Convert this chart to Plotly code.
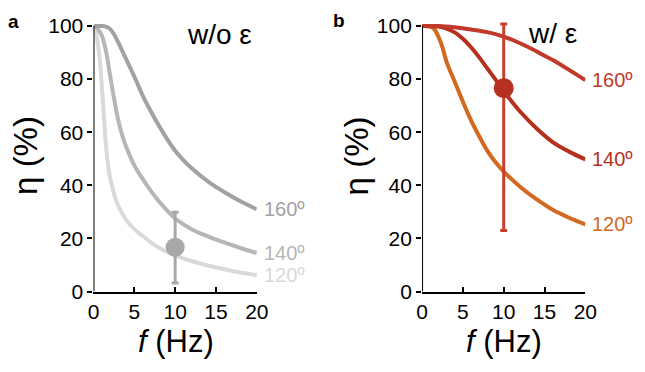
import plotly.graph_objects as go

# ---------------- data ----------------
# panel a (w/o epsilon)
f_a160 = [0, 1, 1.5, 2, 2.5, 3, 4, 5, 6, 7, 8, 9, 10, 11, 12, 14, 16, 18, 20]
eta_a160 = [100, 100, 99.8, 99, 97, 94, 87.5, 81, 74, 68, 62.5, 57.5, 53, 49.5, 46.5, 41.5, 37.5, 34, 31]
f_a140 = [0, 0.5, 1, 1.5, 2, 2.5, 3, 3.5, 4, 5, 6, 7, 8, 9, 10, 12, 14, 16, 18, 20]
eta_a140 = [100, 99, 96.5, 91, 82, 73, 65, 59, 54.5, 47.5, 42.5, 38, 34, 30.6, 27.5, 23.5, 20.8, 18.5, 16.4, 14.5]
f_a120 = [0, 0.25, 0.5, 0.75, 1, 1.25, 1.5, 1.75, 2, 2.5, 3, 4, 5, 6, 8, 10, 12, 14, 16, 18, 20]
eta_a120 = [100, 98, 94, 88, 78.5, 67, 56, 48.5, 43.5, 37, 32.5, 27, 23.5, 21, 16.5, 13.6, 11.5, 9.8, 8.4, 7.2, 6.2]
pt_a_f = [10]
pt_a_eta = [16.7]
pt_a_up = [13.2]
pt_a_dn = [13.5]

# panel b (w/ epsilon)
f_b160 = [0, 2, 4, 6, 8, 10, 12, 14, 15, 16, 18, 20]
eta_b160 = [100, 100, 99.5, 98.7, 97.7, 96, 93.5, 90.5, 88.8, 87.2, 83.5, 79.6]
f_b140 = [0, 2, 3, 4, 5, 6, 7, 8, 9, 10, 11, 12, 14, 16, 18, 20]
eta_b140 = [100, 99.8, 99, 97.6, 95.2, 92, 88.2, 84, 79.8, 75.5, 71.5, 67.8, 61.5, 56.3, 52.7, 49.8]
f_b120 = [0, 1, 1.5, 2, 2.5, 3, 4, 5, 6, 7, 8, 9, 10, 12, 14, 16, 18, 20]
eta_b120 = [100, 99.8, 98.8, 96, 92, 86.5, 79, 71.5, 64.5, 58.5, 53, 48.7, 45.2, 39.5, 34.8, 30.8, 27.8, 25.3]
pt_b_f = [10]
pt_b_eta = [76.6]
pt_b_up = [24.2]
pt_b_dn = [53.6]

angle_labels = ["160º", "140º", "120º"]
x_ticks = [0, 5, 10, 15, 20]
y_ticks = [0, 20, 40, 60, 80, 100]

# ---------------- styles ----------------
FONT = "Arial, Liberation Sans, sans-serif"
gray_cols = ["#a2a2a2", "#b6b6b6", "#d9d9d9"]
red_cols = ["#c0392b", "#b5311e", "#d2691e"]

fig = go.Figure()

def curve(x, y, col, xa, ya):
    fig.add_trace(go.Scatter(x=x, y=y, mode="lines", line=dict(color=col, width=4, shape="spline", smoothing=1.0),
                             xaxis=xa, yaxis=ya, showlegend=False, hoverinfo="skip"))

# panel a curves (light drawn first)
curve(f_a120, eta_a120, gray_cols[2], "x", "y")
curve(f_a140, eta_a140, gray_cols[1], "x", "y")
curve(f_a160, eta_a160, gray_cols[0], "x", "y")
fig.add_trace(go.Scatter(x=pt_a_f, y=pt_a_eta, mode="markers",
                         marker=dict(size=19, color="#a8a8a8"),
                         error_y=dict(type="data", array=pt_a_up, arrayminus=pt_a_dn, color="#a8a8a8", thickness=3, width=3.5),
                         xaxis="x", yaxis="y", showlegend=False))

# panel b curves
curve(f_b120, eta_b120, red_cols[2], "x2", "y2")
curve(f_b140, eta_b140, red_cols[1], "x2", "y2")
curve(f_b160, eta_b160, red_cols[0], "x2", "y2")
fig.add_trace(go.Scatter(x=pt_b_f, y=pt_b_eta, mode="markers",
                         marker=dict(size=20, color="#b5301f"),
                         error_y=dict(type="data", array=pt_b_up, arrayminus=pt_b_dn, color="#c8402c", thickness=3, width=3.5),
                         xaxis="x2", yaxis="y2", showlegend=False))

ydom = [1 - 299 / 372, 1 - 15.815 / 372]
axis_common = dict(showgrid=False, zeroline=False, showline=True, linecolor="black", linewidth=2,
                   tickfont=dict(family=FONT, size=21, color="black"), tickwidth=2, ticklen=5, tickcolor="black")

fig.update_layout(
    width=645, height=372, margin=dict(l=0, r=0, t=0, b=0),
    paper_bgcolor="white", plot_bgcolor="white",
    xaxis=dict(domain=[90 / 645, 258 / 645], range=[0, 20], tickvals=x_ticks, ticks="inside", anchor="y", **axis_common),
    yaxis=dict(domain=ydom, range=[0, 101.5], tickvals=y_ticks, ticks="outside", anchor="x", **{**axis_common, "showline": False}),
    xaxis2=dict(domain=[428 / 645, 596 / 645], range=[0, 20], tickvals=x_ticks, ticks="inside", anchor="y2", **axis_common),
    yaxis2=dict(domain=ydom, range=[0, 101.5], tickvals=y_ticks, ticks="outside", anchor="x2", **{**axis_common, "showline": False}),
)

# y axis lines stopping at 100
for xr, yr in (("x", "y"), ("x2", "y2")):
    fig.add_shape(type="line", xref=xr, yref=yr, x0=0, x1=0, y0=0, y1=100,
                  line=dict(color="black", width=2), layer="above")

ann = []
# angle labels
for lab, ys, col in zip(angle_labels, [eta_a160[-1], eta_a140[-1], eta_a120[-1]], gray_cols):
    ann.append(dict(x=20, y=ys, xref="x", yref="y", text=lab, showarrow=False, xanchor="left", yanchor="middle",
                    xshift=5, font=dict(family=FONT, size=20, color=col)))
for lab, ys, col in zip(angle_labels, [eta_b160[-1], eta_b140[-1], eta_b120[-1]], red_cols):
    ann.append(dict(x=20, y=ys, xref="x2", yref="y2", text=lab, showarrow=False, xanchor="left", yanchor="middle",
                    xshift=5, font=dict(family=FONT, size=20, color=col)))

def pa(text, px, py, size, **kw):
    ann.append(dict(x=px / 645, y=1 - py / 372, xref="paper", yref="paper", text=text, showarrow=False,
                    xanchor="center", yanchor="middle", font=dict(family=FONT, size=size, color="black"), **kw))

pa("w/o ε", 220, 29, 28)
pa("w/ ε", 562, 28, 28)
pa("<b>a</b>", 8, 15, 19)
pa("<b>b</b>", 343, 14, 19)
pa("η (%)", 20, 156, 33, textangle=-90)
pa("η (%)", 361, 156, 33, textangle=-90)
pa("<i>f</i> (Hz)", 175, 351, 31)
pa("<i>f</i> (Hz)", 512, 351, 31)

fig.update_layout(annotations=ann)
fig.write_html("out.html", config={"displayModeBar": False},
               post_script="document.body.style.margin='0';document.body.style.overflow='hidden';")
